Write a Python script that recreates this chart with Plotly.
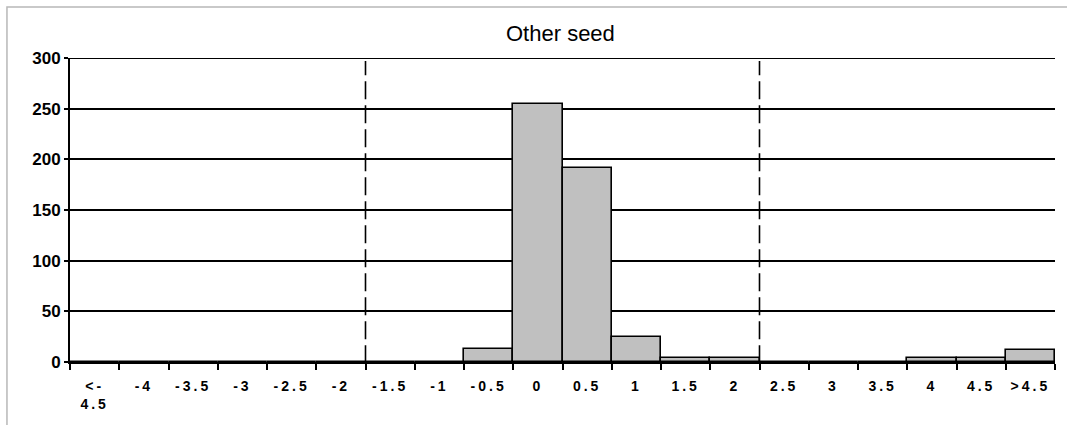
import plotly.graph_objects as go

categories = ["<-4.5", "-4", "-3.5", "-3", "-2.5", "-2", "-1.5", "-1", "-0.5", "0",
              "0.5", "1", "1.5", "2", "2.5", "3", "3.5", "4", "4.5", ">4.5"]
counts = [0, 0, 0, 0, 0, 0, 0, 0, 13, 255, 191, 25, 4, 4, 0, 0, 0, 4, 4, 12]
tick_labels = ["&lt;-<br>4.5", "-4", "-3.5", "-3", "-2.5", "-2", "-1.5", "-1", "-0.5", "0",
               "0.5", "1", "1.5", "2", "2.5", "3", "3.5", "4", "4.5", "&gt;4.5"]
# dashed limits drawn between these category pairs
limit_after = ["-2", "2"]
y_ticks = [0, 50, 100, 150, 200, 250, 300]
title = "Other seed"

FONT = "Arial, Liberation Sans, sans-serif"

fig = go.Figure()
fig.add_trace(go.Bar(
    x=list(range(len(categories))), y=counts,
    width=1.0,
    marker=dict(color="#c0c0c0", line=dict(color="#000000", width=1.6)),
    hoverinfo="skip",
))

shapes = []
for c in limit_after:
    xpos = categories.index(c) + 0.5
    shapes.append(dict(type="line", xref="x", yref="y", x0=xpos, x1=xpos,
                       y0=-25, y1=297, line=dict(color="#000000", width=1.6, dash="18px,6px"),
                       layer="above"))
# top gridline (at the edge of the plot area)
shapes.append(dict(type="line", xref="paper", yref="y", x0=0, x1=1,
                   y0=y_ticks[-1], y1=y_ticks[-1], line=dict(color="#000000", width=2),
                   layer="above"))
# outer chart frame
shapes.append(dict(type="rect", xref="paper", yref="paper", x0=-0.064, x1=1.05,
                   y0=-0.4, y1=1.168, line=dict(color="#b8b8b8", width=1.5),
                   fillcolor="rgba(0,0,0,0)", layer="below"))

fig.update_layout(
    width=1067, height=425,
    margin=dict(l=70, r=12, t=58, b=63, autoexpand=False),
    paper_bgcolor="white", plot_bgcolor="white",
    showlegend=False,
    bargap=0,
    shapes=shapes,
    annotations=[dict(text=title, xref="paper", yref="paper", x=0.4975, y=1.082,
                      xanchor="center", yanchor="middle", showarrow=False,
                      font=dict(family=FONT, size=22, color="#000000"))],
    xaxis=dict(
        range=[-0.5, len(categories) - 0.5],
        tickmode="array",
        tickvals=list(range(len(categories))),
        ticktext=["<b>" + t + "</b>" for t in tick_labels],
        showgrid=False, zeroline=False,
        showline=True, linecolor="#000000", linewidth=2,
        ticks="", ticklabelstandoff=10,
        tickfont=dict(family=FONT, size=14, color="#000000"),
        automargin=False,
    ),
    yaxis=dict(
        range=[0, 300],
        tickmode="array", tickvals=y_ticks,
        ticktext=["<b>%d</b>" % v for v in y_ticks],
        showgrid=True, gridcolor="#000000", gridwidth=1.6,
        zeroline=False,
        showline=True, linecolor="#000000", linewidth=2,
        ticks="outside", ticklen=4, tickwidth=1.5, tickcolor="#000000",
        tickfont=dict(family=FONT, size=17, color="#000000"),
        automargin=False,
    ),
)

# boundary tick marks on the x axis (minor ticks at category edges)
fig.update_xaxes(minor=dict(tickmode="array",
                            tickvals=[i - 0.5 for i in range(len(categories) + 1)],
                            ticks="outside", ticklen=6, tickwidth=1.5, tickcolor="#000000",
                            showgrid=False))

post = """
document.body.style.margin = '0';
document.querySelectorAll('.xtick text').forEach(function(t){
    t.style.letterSpacing = '3px';
});
"""
fig.write_html("out.html", post_script=post, config={"displayModeBar": False})
